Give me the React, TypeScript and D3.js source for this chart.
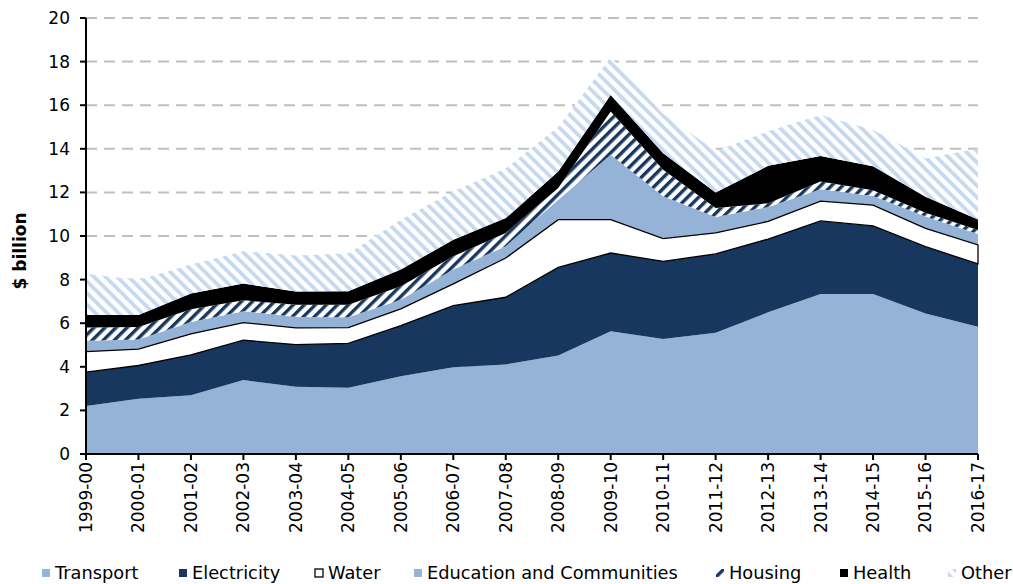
import React from "react";
import * as d3 from "d3";

const categories = ["1999-00","2000-01","2001-02","2002-03","2003-04","2004-05","2005-06","2006-07","2007-08","2008-09","2009-10","2010-11","2011-12","2012-13","2013-14","2014-15","2015-16","2016-17"];
const transport = [2.2, 2.53, 2.7, 3.39, 3.08, 3.04, 3.57, 3.98, 4.11, 4.52, 5.63, 5.28, 5.56, 6.5, 7.34, 7.34, 6.45, 5.84];
const electricity = [1.56, 1.53, 1.85, 1.83, 1.94, 2.03, 2.32, 2.83, 3.08, 4.04, 3.59, 3.56, 3.62, 3.36, 3.35, 3.12, 3.06, 2.88];
const water = [0.94, 0.75, 0.96, 0.81, 0.77, 0.73, 0.77, 0.99, 1.8, 2.19, 1.53, 1.04, 0.96, 0.81, 0.91, 0.96, 0.84, 0.87];
const education = [0.49, 0.44, 0.54, 0.52, 0.5, 0.47, 0.42, 0.66, 0.54, 0.91, 2.98, 1.94, 0.73, 0.66, 0.54, 0.41, 0.54, 0.5];
const housing = [0.61, 0.58, 0.59, 0.5, 0.56, 0.58, 0.62, 0.61, 0.61, 0.54, 1.98, 1.22, 0.41, 0.17, 0.36, 0.27, 0.18, 0.19];
const health = [0.58, 0.55, 0.72, 0.77, 0.6, 0.62, 0.76, 0.76, 0.68, 0.76, 0.76, 0.76, 0.72, 1.72, 1.17, 1.1, 0.73, 0.48];
const other = [1.89, 1.6, 1.33, 1.48, 1.66, 1.73, 2.29, 2.22, 2.28, 2.04, 1.73, 1.8, 1.9, 1.58, 1.88, 1.66, 1.76, 3.24];

const yTicks = [0, 2, 4, 6, 8, 10, 12, 14, 16, 18, 20];
const seriesNames = ["Transport", "Electricity", "Water", "Education and Communities", "Housing", "Health", "Other"];
const seriesValues = [transport, electricity, water, education, housing, health, other];
const fills = ["#95b3d7", "#17375e", "#ffffff", "#95b3d7", "url(#hatchHousing)", "#000000", "url(#hatchOther)"];
const legendX = [42, 179, 315, 414, 716, 840, 948];

const FONT = "'DejaVu Sans', sans-serif";

export default function App() {
  const W = 1013, H = 584;
  const x = d3.scalePoint<string>().domain(categories).range([86, 978]);
  const y = d3.scaleLinear().domain([0, 20]).range([454, 18]);

  const rows = categories.map((c, i) => {
    const r: any = { cat: c };
    seriesNames.forEach((n, k) => (r[n] = seriesValues[k][i]));
    return r;
  });
  const stacked = d3.stack<any>().keys(seriesNames)(rows);
  const area = d3
    .area<any>()
    .x((d) => x(d.data.cat) as number)
    .y0((d) => y(d[0]))
    .y1((d) => y(d[1]));

  return (
    <svg width={W} height={H} style={{ position: "absolute", left: 0, top: 0, background: "#fff" }} fontFamily={FONT}>
      <defs>
        <pattern id="hatchHousing" patternUnits="userSpaceOnUse" width={7.8} height={7.8} patternTransform="rotate(45)">
          <rect width={7.8} height={7.8} fill="#fff" />
          <rect width={3.4} height={7.8} fill="#17375e" />
        </pattern>
        <pattern id="hatchOther" patternUnits="userSpaceOnUse" width={8.2} height={8.2} patternTransform="rotate(-45)">
          <rect width={8.2} height={8.2} fill="#fff" />
          <rect width={3.8} height={8.2} fill="#c6d9f1" />
        </pattern>
      </defs>
      <rect width={W} height={H} fill="#fff" />
      {yTicks.filter((t) => t > 0).map((t) => (
        <line key={t} x1={86} x2={978} y1={y(t)} y2={y(t)} stroke="#c0c0c0" strokeWidth={2} strokeDasharray="11,7" />
      ))}
      {stacked.map((s, k) => (
        <path key={s.key} d={area(s) as string} fill={fills[k]} stroke="none" />
      ))}
      <path d={area(stacked[2]) as string} fill="none" stroke="#000" strokeWidth={1.3} strokeLinejoin="miter" />
      <line x1={86} x2={86} y1={18} y2={454} stroke="#000" strokeWidth={2} />
      <line x1={85} x2={978} y1={454} y2={454} stroke="#000" strokeWidth={2} />
      {yTicks.map((t) => (
        <g key={t}>
          <line x1={80} x2={86} y1={y(t)} y2={y(t)} stroke="#000" strokeWidth={2} />
          <text x={70} y={y(t)} dy="0.35em" textAnchor="end" fontSize={17} fill="#000">{t}</text>
        </g>
      ))}
      {categories.map((c) => (
        <g key={c}>
          <line x1={x(c)} x2={x(c)} y1={454} y2={460} stroke="#000" strokeWidth={2} />
          <text transform={`translate(${x(c)},462) rotate(-90)`} dy="0.35em" textAnchor="end" fontSize={17} fill="#000">{c}</text>
        </g>
      ))}
      <text transform="translate(20,251) rotate(-90)" dy="0.35em" textAnchor="middle" fontSize={17} fontWeight="bold" fill="#000">$ billion</text>
      {seriesNames.map((n, k) => (
        <g key={n}>
          <rect x={legendX[k]} y={569} width={8} height={8} fill={fills[k]} stroke={k === 2 ? "#000" : "none"} strokeWidth={1.3} />
          <text x={legendX[k] + 13} y={573} dy="0.35em" fontSize={17.8} fill="#000">{n}</text>
        </g>
      ))}
    </svg>
  );
}
